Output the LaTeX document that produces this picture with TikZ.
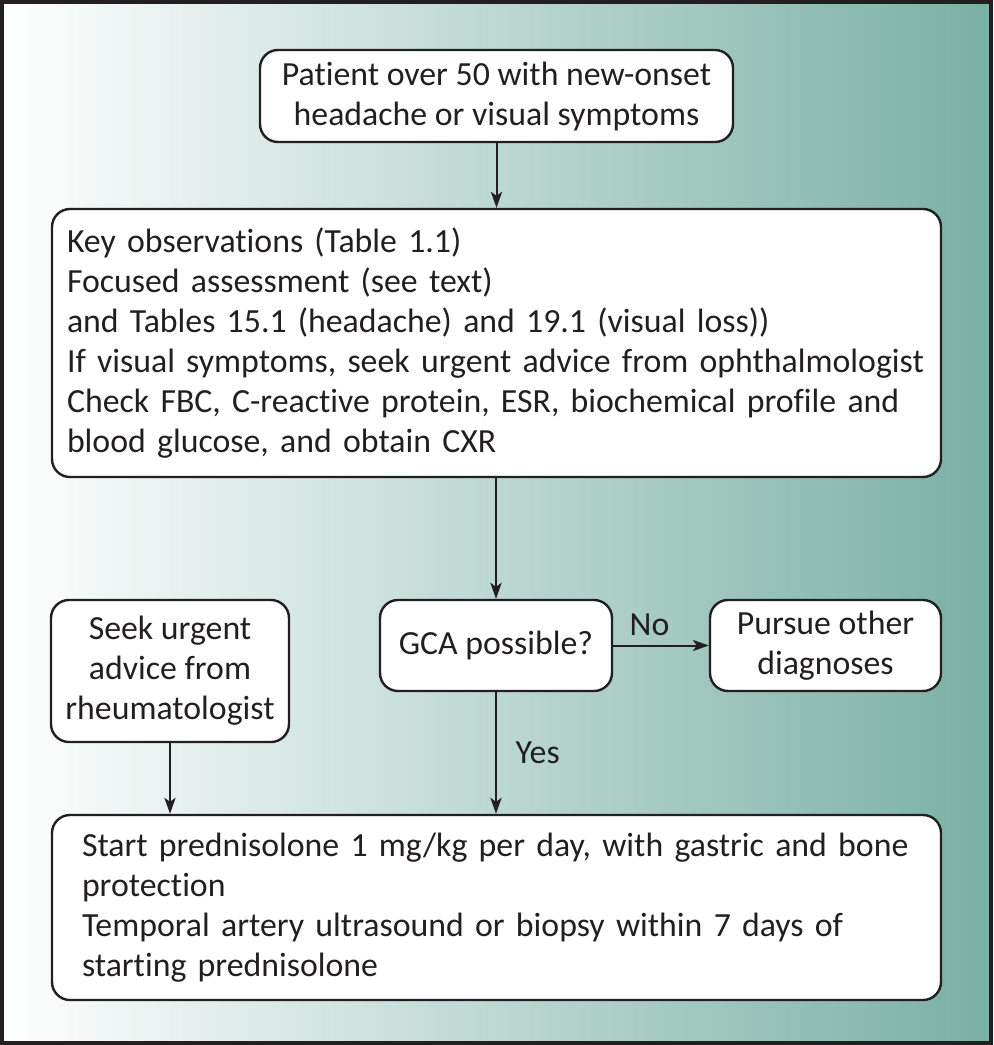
\documentclass[tikz,border=0pt]{standalone}
\usepackage{fontspec}
\setmainfont{Carlito}[Ligatures=NoCommon]
\usepackage{tikz}
\usetikzlibrary{arrows.meta,positioning,calc}
\definecolor{ink}{HTML}{231F20}
\definecolor{bgteal}{HTML}{79B0A4}
\newcommand{\oneline}[1]{\mbox{#1}}

\begin{document}
\begin{tikzpicture}[x=0.5pt,y=-0.5pt,
  flowbox/.style={draw=ink,line width=1.2pt,rounded corners=9pt,fill=white,text=ink,
    font=\fontsize{16.9}{20}\selectfont,inner sep=0pt,align=center},
  listbox/.style={flowbox,align=left,text width=429.5pt,inner xsep=7.5pt},
  flowarrow/.style={draw=ink,line width=1pt,-{Stealth[length=8pt,width=5.6pt,inset=2pt]}},
  edgelabel/.style={text=ink,font=\fontsize{16.9}{20}\selectfont}]
  \useasboundingbox (0,0) rectangle (993,1045);
  \shade[left color=white,right color=bgteal] (0,0) rectangle (993,1045);
  \draw[ink,line width=2pt] (2,2) rectangle (991,1043);
  % boxes
  \node[flowbox,minimum width=236.5pt,minimum height=46pt] (patient) at (496.5,96)
    {Patient over 50 with new-onset\\headache or visual symptoms};
  \node[listbox,minimum height=134pt] (keyobs) at (496.5,343)
    {\oneline{Key observations (Table 1.1)}\\
     \oneline{Focused assessment (see text)}\\
     \oneline{and Tables 15.1 (headache) and 19.1 (visual loss))}\\
     \oneline{If visual symptoms, seek urgent advice from ophthalmologist}\\
     \oneline{Check FBC, C-reactive protein, ESR, biochemical profile and}\\
     \oneline{blood glucose, and obtain CXR}};
  \node[flowbox,minimum width=116pt,minimum height=45.5pt] (gca) at (496,645.5) {GCA possible?};
  \node[flowbox,minimum width=115.5pt,minimum height=45.5pt] (pursue) at (825.5,645.5)
    {Pursue other\\diagnoses};
  \node[flowbox,minimum width=119pt,minimum height=71pt] (rheum) at (170,671)
    {Seek urgent\\advice from\\rheumatologist};
  \node[listbox,text width=414.5pt,inner xsep=15pt,minimum height=92.5pt] (treat) at (496.5,907.5)
    {\oneline{Start prednisolone 1 mg/kg per day, with gastric and bone}\\
     \oneline{protection}\\
     \oneline{Temporal artery ultrasound or biopsy within 7 days of}\\
     \oneline{starting prednisolone}};
  % connectors
  \draw[flowarrow] (patient) -- (keyobs);
  \draw[flowarrow] (keyobs.south -| gca) -- (gca);
  \draw[flowarrow] (gca) -- node[edgelabel,above=1pt,pos=0.38] {No} (pursue);
  \draw[flowarrow] (gca) -- node[edgelabel,right=6pt] {Yes} (gca |- treat.north);
  \draw[flowarrow] (rheum) -- (rheum |- treat.north);
\end{tikzpicture}
\end{document}
